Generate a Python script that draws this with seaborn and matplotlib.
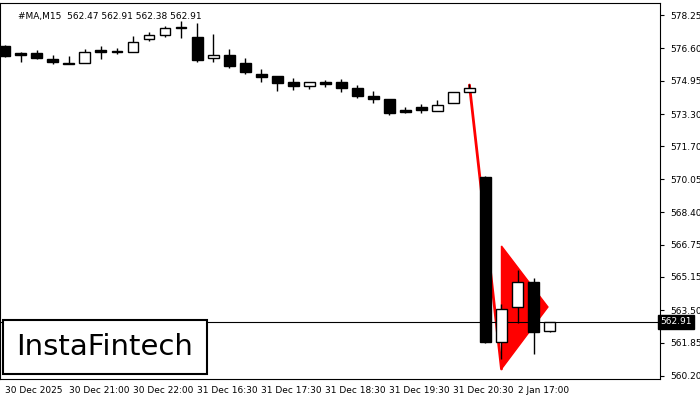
import matplotlib
matplotlib.use("Agg")
import matplotlib.pyplot as plt
from matplotlib.patches import Polygon
import seaborn as sns

# OHLC candles, M15
opens = [576.7, 576.35, 576.35, 576.05, 575.85, 575.85, 576.5, 576.45, 576.4, 577.05,
         577.25, 577.6, 577.15, 576.1, 576.25, 575.85, 575.3, 575.2, 574.9, 574.7,
         574.9, 574.9, 574.6, 574.2, 574.05, 573.5, 573.65, 573.45, 573.85, 574.4,
         570.15, 561.9, 563.65, 564.9, 562.47]
closes = [576.2, 576.25, 576.1, 575.9, 575.8, 576.4, 576.4, 576.4, 576.9, 577.25,
          577.6, 577.62, 576.0, 576.25, 575.7, 575.4, 575.15, 574.85, 574.7, 574.9,
          574.8, 574.6, 574.2, 574.05, 573.35, 573.4, 573.5, 573.75, 574.4, 574.6,
          561.9, 563.55, 564.9, 562.4, 562.91]
highs = [576.75, 576.4, 576.5, 576.25, 576.2, 576.55, 576.7, 576.6, 577.2, 577.4,
         577.7, 577.95, 577.85, 577.3, 576.55, 576.1, 575.55, 575.2, 575.1, 574.9,
         575.0, 575.05, 574.75, 574.45, 574.05, 573.65, 573.8, 574.0, 574.4, 574.8,
         570.2, 563.8, 565.5, 565.1, 562.91]
lows = [576.15, 575.9, 576.05, 575.8, 575.8, 575.85, 576.05, 576.3, 576.4, 576.95,
        577.15, 577.1, 575.9, 575.9, 575.6, 575.3, 574.9, 574.45, 574.5, 574.55,
        574.65, 574.4, 574.1, 573.85, 573.25, 573.35, 573.35, 573.45, 573.85, 574.4,
        561.85, 561.05, 562.85, 561.3, 562.38]

y_ticks = [578.25, 576.60, 574.95, 573.30, 571.70, 570.05, 568.40, 566.75, 565.15,
           563.50, 561.85, 560.20]
x_tick_pos = [0, 4, 8, 12, 16, 20, 24, 28, 32]
x_tick_labels = ["30 Dec 2025", "30 Dec 21:00", "30 Dec 22:00", "31 Dec 16:30",
                 "31 Dec 17:30", "31 Dec 18:30", "31 Dec 19:30", "31 Dec 20:30",
                 "2 Jan 17:00"]

# pennant pattern: pole and flag
pole_x = [29, 31]
pole_y = [574.75, 560.55]
flag_x = [31, 31, 33.9]
flag_y = [566.7, 560.55, 563.65]
last_price = 562.91

sns.set_style("white")
fig = plt.figure(figsize=(7, 4), dpi=100)
ax = fig.add_axes([0.0, 0.0525, 0.943, 0.94])

ax.add_patch(Polygon(list(zip(flag_x, flag_y)), closed=True, color="red", zorder=1))
ax.plot(pole_x, pole_y, color="red", lw=2, zorder=1)

for i in range(len(opens)):
    o, c, h, l = opens[i], closes[i], highs[i], lows[i]
    ax.vlines(i, l, h, color="black", lw=1, zorder=2)
    bottom = min(o, c)
    height = max(abs(c - o), 0.06)
    face = "white" if c > o else "black"
    ax.bar(i, height, bottom=bottom, width=0.68, color=face, edgecolor="black",
           linewidth=1, zorder=3)

ax.axhline(last_price, color="black", lw=0.8, zorder=1.5)

ax.set_xlim(-0.3, 40.9)
ax.set_ylim(560.05, 578.85)
ax.yaxis.tick_right()
ax.set_yticks(y_ticks)
ax.set_yticklabels([f"{v:.2f}" for v in y_ticks], fontsize=6.5)
ax.set_xticks(x_tick_pos)
ax.set_xticklabels(x_tick_labels, fontsize=6.5, ha="left")
ax.tick_params(axis="both", length=3, width=0.8, direction="out", colors="black", pad=2)
ax.tick_params(axis="y", pad=4)
for s in ax.spines.values():
    s.set_color("black")
    s.set_linewidth(0.8)

ax.text(1.0, last_price, f"{last_price:.2f}", transform=ax.get_yaxis_transform(),
        ha="left", va="center", fontsize=6.5, color="white",
        bbox=dict(boxstyle="square,pad=0.25", fc="black", ec="black"))
ax.text(0.028, 0.975, "#MA,M15  562.47 562.91 562.38 562.91", transform=ax.transAxes,
        ha="left", va="top", fontsize=6.5, color="black")
ax.text(0.025, 0.085, "InstaFintech", transform=ax.transAxes, ha="left", va="center",
        fontsize=21, color="black", family="DejaVu Sans",
        bbox=dict(boxstyle="square,pad=0.45", fc="white", ec="black", lw=1.5), zorder=5)

fig.savefig("out.png", dpi=100)
